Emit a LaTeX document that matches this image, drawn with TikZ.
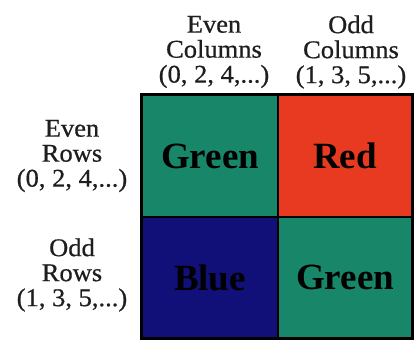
\documentclass[tikz,border=0pt]{standalone}
\usepackage{fontspec}
\setmainfont{Liberation Serif}
\newfontfamily\labfont[FakeStretch=1.04,FakeBold=0.6]{Liberation Serif}
\definecolor{cgreen}{RGB}{24,135,105}
\definecolor{cred}{RGB}{232,58,32}
\definecolor{cblue}{RGB}{16,16,120}
\definecolor{ctext}{RGB}{30,30,30}
\begin{document}
\begin{tikzpicture}[x=1pt,y=-1pt,
  cell/.style={draw=black, line width=1.6pt, inner sep=0pt, minimum height=122pt,
    font=\fontsize{37}{40}\selectfont\bfseries, text=black},
  lab/.style={align=center, inner sep=0pt, font=\labfont\fontsize{25.5}{25}\selectfont, text=ctext}]
\useasboundingbox (0,0) rectangle (419,347);
\fill[white] (0,0) rectangle (419,347);
\node[cell, fill=cgreen, minimum width=136pt] (g1) at (210,156) {Green};
\node[cell, fill=cred, minimum width=134pt] (r) at (345,156) {Red};
\node[cell, fill=cblue, minimum width=136pt, minimum height=121pt] (b) at (210,277.5) {Blue};
\node[cell, fill=cgreen, minimum width=134pt, minimum height=121pt] (g2) at (345,277.5) {Green};
\draw[line width=2.2pt] (g1.north west) rectangle (g2.south east);
\node[lab] (ec) at (214,52) {Even\\Columns\\(0, 2, 4,...)};
\node[lab] (oc) at (351,52) {Odd\\Columns\\(1, 3, 5,...)};
\node[lab] (er) at (72,156) {Even\\Rows\\(0, 2, 4,...)};
\node[lab] (or) at (72,275) {Odd\\Rows\\(1, 3, 5,...)};
\end{tikzpicture}
\end{document}
